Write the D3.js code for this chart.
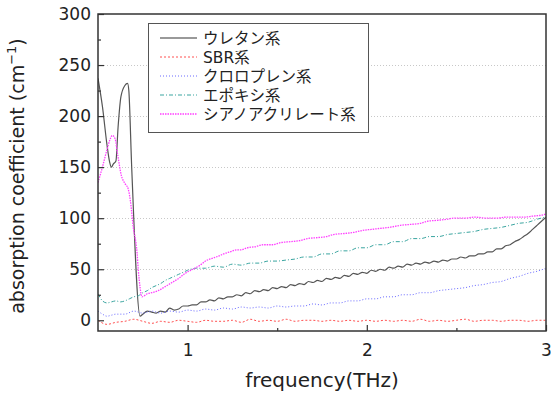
<!DOCTYPE html>
<html>
<head>
<meta charset="utf-8">
<script src="https://cdn.jsdelivr.net/npm/d3@7"></script>
<style>
  body { margin: 0; background: #fff; }
  svg { display: block; }
  text { font-family: "DejaVu Sans", "Noto Sans CJK JP", sans-serif; fill: #222; }
</style>
</head>
<body>
<svg id="chart" width="551" height="394"></svg>
<script>
// series names, in legend order
var seriesNames = ["ウレタン系", "SBR系", "クロロプレン系", "エポキシ系", "シアノアクリレート系"];

// [frequency (THz), absorption coefficient (cm^-1)]
var urethane = [
  [0.5,237],[0.525,209],[0.55,172],[0.565,155],[0.575,150],[0.585,153],[0.6,156],[0.612,189],
  [0.628,219],[0.65,230],[0.665,232],[0.672,225],[0.688,150],[0.735,4],[0.75,6],[0.775,9],
  [0.8,8],[0.825,7],[0.85,9],[0.875,8],[0.9,12],[0.925,10],[0.95,11],[0.975,14],[1.0,14],
  [1.025,15],[1.05,15],[1.075,18],[1.1,18],[1.125,20],[1.15,19],[1.175,22],[1.2,21],[1.225,23],
  [1.25,23],[1.275,25],[1.3,24],[1.325,27],[1.35,26],[1.375,29],[1.4,28],[1.425,30],[1.45,29],
  [1.475,32],[1.5,31],[1.525,33],[1.55,32],[1.575,35],[1.6,34],[1.625,36],[1.65,35],[1.675,38],
  [1.7,37],[1.725,39],[1.75,38],[1.775,41],[1.8,40],[1.825,42],[1.85,41],[1.875,44],[1.9,43],
  [1.925,46],[1.95,45],[1.975,47],[2.0,46],[2.025,49],[2.05,48],[2.075,50],[2.1,49],[2.125,52],
  [2.15,51],[2.175,53],[2.2,52],[2.225,55],[2.25,54],[2.275,56],[2.3,55],[2.325,57],[2.35,56],
  [2.375,58],[2.4,57],[2.425,59],[2.45,58],[2.475,60],[2.5,60],[2.525,62],[2.55,61],[2.575,63],
  [2.6,63],[2.625,65],[2.65,65],[2.675,67],[2.7,67],[2.725,70],[2.75,70],[2.775,73],[2.8,74],
  [2.825,77],[2.85,79],[2.875,82],[2.9,85],[2.925,89],[2.95,93],[2.975,97],[3.0,101]
];

var sbr = [
  [0.5,0],[0.55,-4],[0.6,-2],[0.65,-1],[0.7,1],[0.75,-1],[0.8,-3],[0.85,-1],[0.9,-2],[0.95,0],
  [1.0,-1],[1.05,-2],[1.1,0],[1.15,-1],[1.2,-1],[1.25,0],[1.3,-2],[1.35,1],[1.4,-1],[1.45,0],
  [1.5,-1],[1.55,1],[1.6,-1],[1.65,0],[1.7,0],[1.75,-1],[1.8,0],[1.85,-1],[1.9,0],[1.95,-1],
  [2.0,0],[2.05,-1],[2.1,0],[2.15,-1],[2.2,0],[2.25,-1],[2.3,1],[2.35,-1],[2.4,0],[2.45,-1],
  [2.5,0],[2.55,1],[2.6,-1],[2.65,0],[2.7,0],[2.75,-1],[2.8,0],[2.85,0],[2.9,-1],[2.95,0],[3.0,0]
];

var chloroprene = [
  [0.5,9],[0.525,6],[0.55,4],[0.575,5],[0.6,6],[0.65,6],[0.7,9],[0.75,7],[0.8,9],[0.85,7],
  [0.9,9],[0.95,8],[1.0,10],[1.05,9],[1.1,11],[1.15,10],[1.2,12],[1.25,11],[1.3,13],[1.35,12],
  [1.4,13],[1.45,12],[1.5,14],[1.55,13],[1.6,14],[1.65,14],[1.7,16],[1.75,15],[1.8,17],[1.85,17],
  [1.9,19],[1.95,19],[2.0,21],[2.05,21],[2.1,23],[2.15,23],[2.2,25],[2.25,25],[2.3,27],[2.35,27],
  [2.4,29],[2.45,30],[2.5,31],[2.55,32],[2.6,34],[2.65,35],[2.7,37],[2.75,38],[2.8,41],[2.85,43],
  [2.9,46],[2.95,48],[3.0,51]
];

var epoxy = [
  [0.5,26],[0.525,19],[0.55,17],[0.575,18],[0.6,19],[0.625,18],[0.65,19],[0.675,21],[0.7,23],
  [0.725,24],[0.75,27],[0.775,29],[0.8,32],[0.825,34],[0.85,36],[0.875,39],[0.9,41],[0.925,43],
  [0.95,45],[0.975,47],[1.0,49],[1.05,51],[1.1,51],[1.15,53],[1.2,52],[1.25,55],[1.3,54],[1.35,56],
  [1.4,56],[1.45,58],[1.5,58],[1.55,59],[1.6,60],[1.65,62],[1.7,62],[1.75,65],[1.8,65],[1.85,68],
  [1.9,68],[1.95,71],[2.0,71],[2.05,74],[2.1,74],[2.15,77],[2.2,77],[2.25,80],[2.3,80],[2.35,82],
  [2.4,82],[2.45,84],[2.5,85],[2.55,86],[2.6,87],[2.65,89],[2.7,90],[2.75,91],[2.8,93],[2.85,95],
  [2.9,96],[2.95,99],[3.0,101]
];

var cyanoacrylate = [
  [0.5,135],[0.52,147],[0.55,167],[0.565,176],[0.58,181],[0.595,178],[0.61,162],[0.63,142],
  [0.65,134],[0.668,129],[0.68,118],[0.697,91],[0.718,66],[0.725,49],[0.735,32],[0.745,23],
  [0.775,26],[0.8,27],[0.835,29],[0.875,33],[0.913,37],[0.95,41],[0.986,46],[1.03,50],[1.07,54],
  [1.1,58],[1.142,61],[1.175,63],[1.2,65],[1.237,67],[1.275,69],[1.3,69],[1.332,71],[1.375,72],
  [1.422,74],[1.475,74],[1.517,76],[1.575,77],[1.625,78],[1.668,80],[1.725,81],[1.775,82],
  [1.813,84],[1.875,85],[1.925,86],[1.975,88],[2.025,89],[2.075,90],[2.125,91],[2.187,93],
  [2.25,94],[2.3,95],[2.338,97],[2.4,98],[2.45,99],[2.483,100],[2.55,100],[2.6,101],[2.673,100],
  [2.725,100],[2.775,101],[2.818,101],[2.875,101],[2.925,102],[2.975,103],[3.0,104]
];

var xTicks = [1, 2, 3];
var xMinorTicks = [1.5, 2.5];
var yTicks = [0, 50, 100, 150, 200, 250, 300];
var yMinorTicks = [25, 75, 125, 175, 225, 275];
var gridValues = [50, 100, 150, 200, 250];

var allSeries = [urethane, sbr, chloroprene, epoxy, cyanoacrylate];
var styles = [
  { color: "#555555", width: 1.2, dash: null,      legendColor: "#999", legendWidth: 2 },
  { color: "#ff5050", width: 1,   dash: "2,2",     legendColor: "#ff5050", legendWidth: 1 },
  { color: "#6a6aff", width: 1,   dash: "1,2",     legendColor: "#6a6aff", legendWidth: 1 },
  { color: "#3aa5a0", width: 1,   dash: "4,2,1,2", legendColor: "#3aa5a0", legendWidth: 1 },
  { color: "#ff40ff", width: 1.3, dash: "1.5,1",   legendColor: "#ff40ff", legendWidth: 1.3 }
];

var plot = { left: 98, top: 14, right: 546, bottom: 331 };

var svg = d3.select("#chart");

var x = d3.scaleLinear().domain([0.5, 3]).range([plot.left, plot.right]);
var y = d3.scaleLinear().domain([-10.5, 300]).range([plot.bottom, plot.top]);

    // clip for the curves
svg.append("defs").append("clipPath").attr("id", "plotclip")
  .append("rect")
  .attr("x", plot.left).attr("y", plot.top)
  .attr("width", plot.right - plot.left).attr("height", plot.bottom - plot.top);

    // horizontal dotted grid
svg.append("g").selectAll("line").data(gridValues).enter().append("line")
  .attr("x1", plot.left).attr("x2", plot.right)
  .attr("y1", function(d) { return Math.round(y(d)) + 0.5; })
  .attr("y2", function(d) { return Math.round(y(d)) + 0.5; })
  .attr("stroke", "#c8c8c8").attr("stroke-width", 1).attr("stroke-dasharray", "1,2");

    // curves
var line = d3.line()
  .x(function(d) { return x(d[0]); })
  .y(function(d) { return y(d[1]); })
  .curve(d3.curveMonotoneX);

var curves = svg.append("g").attr("clip-path", "url(#plotclip)");
allSeries.forEach(function(data, i) {
  var path = curves.append("path")
    .attr("d", line(data))
    .attr("fill", "none")
    .attr("stroke", styles[i].color)
    .attr("stroke-width", styles[i].width);
  if (styles[i].dash)
    path.attr("stroke-dasharray", styles[i].dash);
});

    // axes with inward ticks
var xAxis = d3.axisBottom(x).tickValues(xTicks).tickSize(-6).tickPadding(13).tickFormat(d3.format("d"));
var xMinor = d3.axisBottom(x).tickValues(xMinorTicks).tickSize(-3).tickFormat("");
var yAxis = d3.axisLeft(y).tickValues(yTicks).tickSize(-6).tickPadding(7).tickFormat(d3.format("d"));
var yMinor = d3.axisLeft(y).tickValues(yMinorTicks).tickSize(-3).tickFormat("");

function styleAxis(g) {
  g.select(".domain").remove();
  g.selectAll(".tick line").attr("stroke", "#333").attr("stroke-width", 1.2);
  g.selectAll(".tick text").attr("font-size", 17).attr("fill", "#222")
    .style("font-family", "'DejaVu Sans', sans-serif");
}

svg.append("g").attr("transform", "translate(0," + plot.bottom + ")").call(xAxis).call(styleAxis);
svg.append("g").attr("transform", "translate(0," + plot.bottom + ")").call(xMinor).call(styleAxis);
svg.append("g").attr("transform", "translate(" + plot.left + ",0)").call(yAxis).call(styleAxis);
svg.append("g").attr("transform", "translate(" + plot.left + ",0)").call(yMinor).call(styleAxis);

    // frame
svg.append("rect")
  .attr("x", plot.left).attr("y", plot.top)
  .attr("width", plot.right - plot.left).attr("height", plot.bottom - plot.top)
  .attr("fill", "none").attr("stroke", "#333").attr("stroke-width", 1.5);

    // axis titles
svg.append("text")
  .attr("x", 322).attr("y", 387)
  .attr("text-anchor", "middle").attr("font-size", 20)
  .text("frequency(THz)");

var ylab = svg.append("text")
  .attr("transform", "translate(24,176) rotate(-90)")
  .attr("text-anchor", "middle").attr("font-size", 19);
ylab.append("tspan").text("absorption coefficient (cm");
ylab.append("tspan").attr("dy", -8).attr("font-size", 13).text("−1");
ylab.append("tspan").attr("dy", 8).text(")");

    // legend
var legend = svg.append("g");
legend.append("rect")
  .attr("x", 148.5).attr("y", 23.5).attr("width", 220).attr("height", 109)
  .attr("fill", "#fff").attr("stroke", "#555").attr("stroke-width", 1);

seriesNames.forEach(function(name, i) {
  var cy = 38 + i * 19;
  var l = legend.append("line")
    .attr("x1", 160).attr("x2", 197).attr("y1", cy).attr("y2", cy)
    .attr("stroke", styles[i].legendColor).attr("stroke-width", styles[i].legendWidth);
  if (styles[i].dash)
    l.attr("stroke-dasharray", styles[i].dash);
  legend.append("text")
    .attr("x", 203).attr("y", cy + 6)
    .attr("font-size", 15.5)
    .text(name);
});
</script>
</body>
</html>
